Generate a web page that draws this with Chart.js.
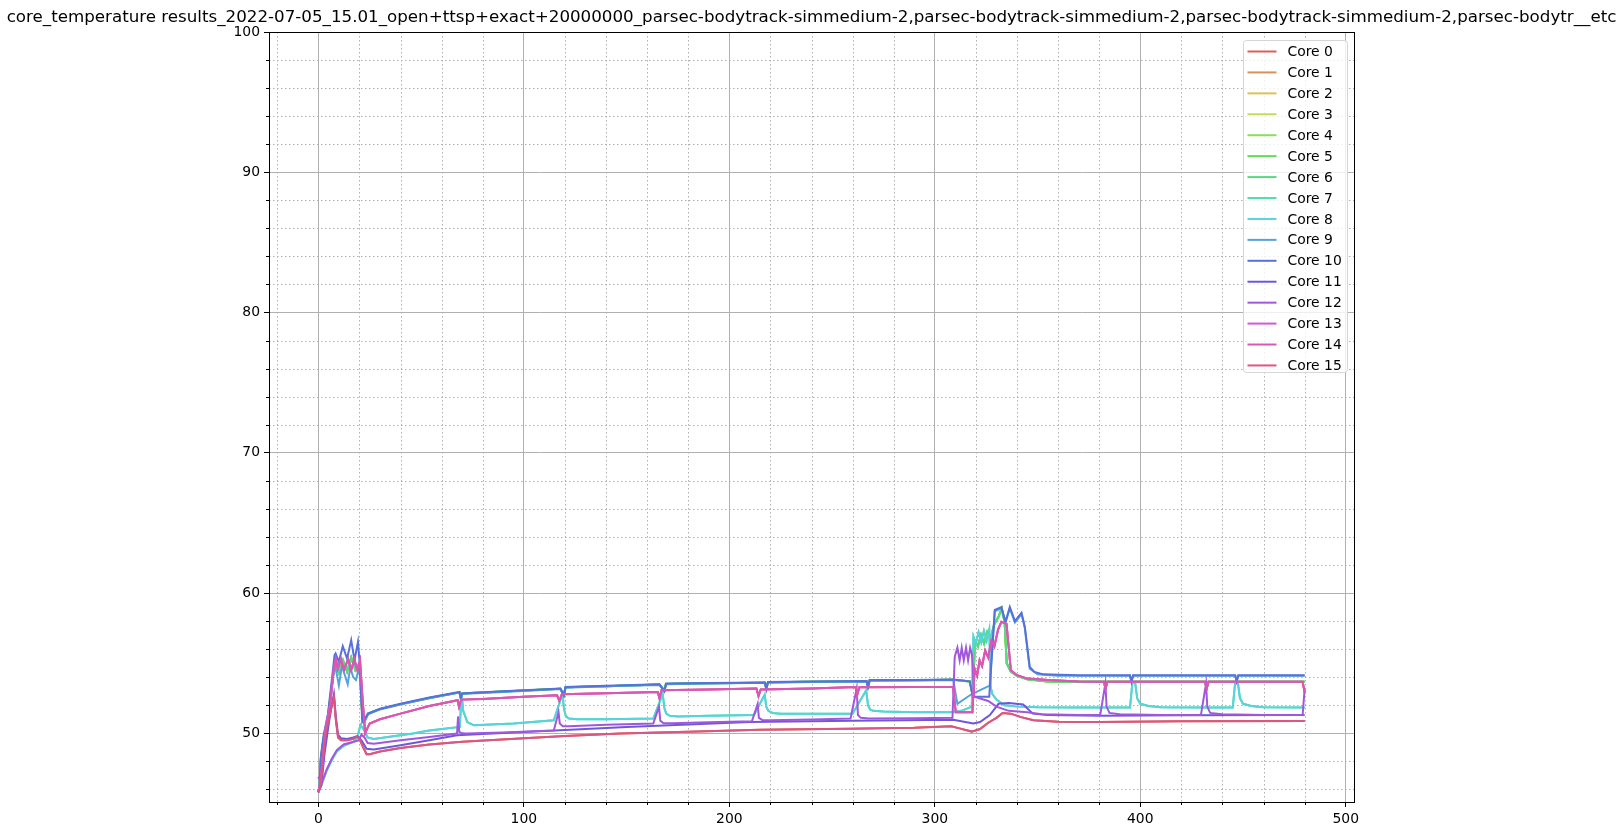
<!DOCTYPE html>
<html>
<head>
<meta charset="utf-8">
<script src="https://cdn.jsdelivr.net/npm/chart.js@4.4.0/dist/chart.umd.min.js"></script>
<style>
  body { margin: 0; background: #fff; }
  #wrap { width: 1623px; height: 836px; }
</style>
</head>
<body>
<div id="wrap"><canvas id="chart" width="1623" height="836"></canvas></div>
<script>
// title / labels
const chartTitle = 'core_temperature results_2022-07-05_15.01_open+ttsp+exact+20000000_parsec-bodytrack-simmedium-2,parsec-bodytrack-simmedium-2,parsec-bodytrack-simmedium-2,parsec-bodytr__etc';
const coreLabels = ['Core 0', 'Core 1', 'Core 2', 'Core 3', 'Core 4', 'Core 5', 'Core 6', 'Core 7',
                    'Core 8', 'Core 9', 'Core 10', 'Core 11', 'Core 12', 'Core 13', 'Core 14', 'Core 15'];
const coreColors = ['#db5f57', '#db9057', '#dbc257', '#c3db57', '#91db57', '#5fdb57', '#57db80', '#57dbb1',
                    '#57d3db', '#57a2db', '#5770db', '#6f57db', '#a157db', '#d357db', '#db57b2', '#db5781'];
const xTickLabels = [0, 100, 200, 300, 400, 500];
const yTickLabels = [50, 60, 70, 80, 90, 100];

// which trace each core follows (cores that overlap in the picture share one)
const coreTrace = ['cool', 'pink', 'green', 'green', 'green', 'green', 'green', 'cyan',
                   'cyan', 'sky', 'blue', 'violet', 'purple', 'pink', 'pink', 'cool'];

// coolest cores (0, 15)
const coolTimes = [0, 1, 2, 3, 4, 5, 6, 7, 7.6, 8.5,
  9.6, 11, 14, 17, 18.8, 20, 21.5, 23.5, 25, 30,
  40, 54, 70, 98, 120, 147, 180, 215, 258, 290,
  308, 312, 318, 322, 326, 330, 333, 337, 342, 348,
  360, 380, 420, 480];
const coolTemps = [45.8, 46.2, 47.5, 49.2, 50.3, 50.9, 51.6, 52.3, 52.6, 51.0,
  49.7, 49.5, 49.5, 49.6, 49.75, 49.6, 49.1, 48.5, 48.5, 48.7,
  48.95, 49.2, 49.4, 49.62, 49.8, 49.98, 50.1, 50.25, 50.33, 50.4,
  50.5, 50.35, 50.12, 50.3, 50.75, 51.1, 51.45, 51.4, 51.15, 50.93,
  50.82, 50.8, 50.85, 50.88];

// core 11
const violetTimes = [0, 1.5, 3, 5, 6.5, 7.6, 8.5, 9.6, 11, 14,
  17, 19, 21, 23.5, 27, 40, 54, 67.5, 80, 115,
  150, 210, 260, 309, 318.7, 322, 326.8, 331, 336, 343,
  347.7, 355, 380, 420, 480];
const violetTemps = [45.8, 46.3, 48.5, 50.6, 52.0, 52.8, 51.2, 49.9, 49.65, 49.6,
  49.7, 49.8, 49.5, 48.9, 48.85, 49.15, 49.5, 49.86, 49.95, 50.2,
  50.45, 50.8, 50.9, 50.97, 50.7, 50.8, 51.3, 52.1, 52.15, 52.05,
  51.4, 51.3, 51.25, 51.28, 51.3];

// core 12
const purpleTimes = [0, 1.5, 4, 6.6, 9, 12.3, 17.2, 19.7, 21, 22.5,
  24, 27, 40, 54, 67.5, 68, 68.6, 70, 72, 90,
  114.6, 116.9, 117.5, 119, 122, 140, 163, 165.8, 166.4, 168,
  172, 190, 211, 213.8, 214.4, 216, 220, 240, 259, 262,
  262.6, 264, 268, 290, 308.6, 309.7, 311, 312.1, 313.1, 314.1,
  315.2, 316.2, 317.2, 318.1, 319.2, 326, 330, 336, 345, 352,
  370, 380.5, 383, 383.6, 385, 390, 410, 429.5, 432, 432.6,
  434, 440, 460, 479, 480];
const purpleTemps = [46.9, 46.4, 47.4, 48.2, 48.8, 49.2, 49.4, 49.5, 49.9, 49.7,
  49.3, 49.26, 49.5, 49.74, 49.98, 51.2, 50.1, 50.0, 49.99, 50.05,
  50.2, 51.5, 50.7, 50.5, 50.5, 50.6, 50.69, 51.9, 50.9, 50.72,
  50.72, 50.78, 50.85, 52.1, 51.1, 50.95, 50.93, 50.98, 51.05, 53.19,
  51.3, 51.1, 51.05, 51.08, 51.1, 55.45, 56.1, 55.2, 56.1, 55.2,
  56.1, 55.2, 56.1, 55.6, 52.6, 52.3, 51.9, 51.6, 51.5, 51.35,
  51.3, 51.3, 53.55, 51.9, 51.45, 51.35, 51.3, 51.3, 53.55, 51.9,
  51.45, 51.35, 51.3, 51.3, 53.2];

// cores 7, 8
const cyanTimes = [0, 1.5, 4, 6.6, 9, 12.3, 17.2, 19, 20.5, 22,
  24, 27, 46, 54, 68.8, 69.8, 70.5, 72.5, 75.7, 95,
  114.6, 118.8, 119.6, 120.5, 122, 126, 140, 163, 167.6, 168.4,
  169.3, 171, 175, 190, 212, 217.2, 218, 219, 221, 225,
  260, 266.6, 267.5, 268.5, 270, 275, 290, 307.6, 313, 318,
  318.8, 320, 321.3, 322.6, 323.9, 325.2, 326.5, 327.2, 328, 330,
  334, 340, 350, 370, 395, 396.2, 397.5, 398.5, 400, 404,
  410, 430, 445, 446.2, 447.5, 448.5, 450, 454, 460, 480];
const cyanTemps = [45.8, 46.3, 47.3, 48.1, 48.7, 49.1, 49.4, 49.7, 50.6, 50.3,
  49.7, 49.6, 49.98, 50.2, 50.45, 52.8, 51.6, 50.8, 50.57, 50.7,
  50.93, 52.8, 51.7, 51.2, 51.05, 51.0, 51.0, 51.05, 52.8, 51.8,
  51.4, 51.25, 51.2, 51.25, 51.3, 52.75, 51.9, 51.6, 51.45, 51.4,
  51.4, 53.07, 52.0, 51.7, 51.6, 51.55, 51.5, 51.5, 51.6, 51.9,
  56.9, 56.4, 57.2, 56.5, 57.3, 56.6, 57.4, 53.3, 52.8, 52.4,
  52.0, 51.9, 51.85, 51.84, 51.84, 53.67, 53.6, 52.5, 52.1, 51.95,
  51.85, 51.84, 51.84, 53.67, 53.6, 52.5, 52.1, 51.95, 51.85, 51.84];

// cores 1, 13, 14
const pinkTimes = [0, 1, 2, 3.4, 5.8, 7.4, 8.5, 9.5, 11, 12.5,
  14.5, 16, 17.5, 19, 20.3, 21.5, 22.8, 24, 25, 30,
  40, 54, 67.8, 68.5, 69.5, 80, 100, 116.2, 117.3, 118.5,
  140, 165.2, 166, 167, 190, 213.2, 214.2, 215.3, 240, 261.5,
  262.2, 263.3, 290, 308.9, 310.2, 318.3, 319.4, 320.6, 321.8, 323,
  324.5, 326, 327.5, 329, 330.8, 332.4, 334.9, 337, 340, 345,
  355, 370, 382.3, 383.1, 384, 400, 431.5, 432.3, 433.2, 460,
  479, 480];
const pinkTemps = [45.8, 46.5, 48.0, 50.2, 52.1, 54.5, 55.3, 54.6, 55.3, 54.5,
  55.3, 54.5, 55.3, 54.5, 55.2, 52.5, 50.0, 50.4, 50.7, 51.0,
  51.4, 51.95, 52.36, 51.88, 52.4, 52.45, 52.6, 52.71, 52.3, 52.79,
  52.86, 52.95, 52.5, 53.07, 53.12, 53.19, 52.65, 53.12, 53.2, 53.3,
  52.71, 53.28, 53.3, 53.3, 51.5, 51.5, 54.6, 54.1, 55.2, 54.8,
  55.9, 55.4, 56.6, 56.2, 57.4, 57.95, 57.8, 54.5, 54.14, 53.9,
  53.8, 53.7, 53.67, 53.2, 53.67, 53.67, 53.67, 53.2, 53.67, 53.67,
  53.67, 52.9];

// core 10
const blueTimes = [0, 0.6, 1.2, 2.5, 4.7, 7.1, 7.9, 8.4, 10, 11.9,
  14, 16, 17.6, 19.3, 20.1, 21.4, 22.5, 24.2, 30, 40,
  54, 68.7, 69.3, 70, 71, 90, 117.8, 119.5, 120.3, 140,
  166, 168.4, 169.2, 190, 217.3, 218, 218.8, 240, 266.8, 267.5,
  268.3, 290, 309, 317, 318.5, 326.5, 329.2, 332.4, 334.4, 336.5,
  339, 342.2, 343.8, 346.2, 348.5, 352.7, 370, 395, 395.7, 396.5,
  420, 446.2, 446.9, 447.7, 480];
const blueTemps = [45.8, 46.2, 48.3, 49.8, 51.4, 54.5, 55.57, 55.69, 55.1, 56.21,
  55.33, 56.64, 55.21, 56.52, 55.0, 50.8, 51.0, 51.4, 51.75, 52.1,
  52.55, 52.95, 52.5, 52.84, 52.86, 53.0, 53.19, 52.7, 53.3, 53.38,
  53.5, 53.0, 53.55, 53.58, 53.62, 53.15, 53.65, 53.7, 53.72, 53.3,
  53.79, 53.8, 53.84, 53.7, 52.6, 52.6, 58.8, 59.0, 57.95, 59.0,
  58.0, 58.6, 57.6, 54.73, 54.38, 54.2, 54.14, 54.14, 53.67, 54.14,
  54.14, 54.14, 53.7, 54.14, 54.14];

// core 9
const skyTimes = [0, 0.6, 1.2, 2.5, 4.7, 7.1, 8, 9, 10, 11.5,
  13, 14.3, 15.5, 17, 18.3, 19.5, 20.5, 21.6, 22.5, 24.2,
  30, 40, 54, 68.7, 69.3, 70, 71, 90, 117.8, 119.5,
  120.3, 140, 166, 168.4, 169.2, 190, 217.3, 218, 218.8, 240,
  266.8, 267.5, 268.3, 290, 309, 311, 318, 326.7, 329.2, 332.4,
  334.4, 336.5, 339, 342.2, 343.8, 346.2, 350, 360, 395, 395.7,
  396.5, 420, 446.2, 446.9, 447.7, 480];
const skyTemps = [45.8, 46.2, 48.0, 49.5, 51.0, 53.8, 54.9, 54.2, 53.4, 54.8,
  54.1, 53.5, 54.7, 54.0, 53.8, 54.5, 54.0, 51.2, 50.8, 51.35,
  51.7, 52.05, 52.5, 52.9, 52.5, 52.8, 52.82, 52.95, 53.15, 52.7,
  53.25, 53.35, 53.45, 53.0, 53.5, 53.55, 53.6, 53.15, 53.6, 53.65,
  53.7, 53.3, 53.75, 53.78, 53.8, 52.1, 52.8, 53.4, 58.7, 58.9,
  57.9, 58.9, 57.9, 58.5, 57.5, 54.6, 54.2, 54.1, 54.1, 53.67,
  54.1, 54.1, 54.1, 53.7, 54.1, 54.1];

// cores 2 - 6
const greenTimes = [0, 0.6, 1.2, 2.5, 4.7, 7.1, 8, 10, 12, 14,
  16, 18, 20, 21.5, 22.5, 24.2, 30, 40, 54, 68.7,
  69.3, 70, 90, 117.8, 119.5, 120.3, 140, 166, 168.4, 169.2,
  190, 217.3, 218, 218.8, 240, 266.8, 267.5, 268.3, 290, 309,
  317, 318.6, 319.5, 321, 322.5, 324, 325.5, 327, 329, 331,
  332.6, 334, 335, 337, 340, 345, 355, 370, 382.3, 383.1,
  384, 431.5, 432.3, 433.2, 480];
const greenTemps = [45.8, 46.2, 48.1, 49.6, 51.2, 54.0, 55.0, 54.3, 55.2, 54.4,
  55.4, 54.5, 55.0, 51.0, 50.9, 51.4, 51.72, 52.08, 52.52, 52.92,
  52.55, 52.84, 52.97, 53.17, 52.75, 53.28, 53.36, 53.48, 53.05, 53.52,
  53.56, 53.6, 53.2, 53.63, 53.68, 53.7, 53.35, 53.76, 53.78, 53.82,
  53.7, 52.6, 56.6, 56.2, 57.0, 56.4, 57.2, 56.7, 57.8, 58.3,
  58.9, 57.9, 55.0, 54.4, 54.1, 53.85, 53.7, 53.67, 53.67, 53.2,
  53.67, 53.67, 53.2, 53.67, 53.67];

const traceTable = {
  cool: [coolTimes, coolTemps],
  violet: [violetTimes, violetTemps],
  purple: [purpleTimes, purpleTemps],
  cyan: [cyanTimes, cyanTemps],
  pink: [pinkTimes, pinkTemps],
  blue: [blueTimes, blueTemps],
  sky: [skyTimes, skyTemps],
  green: [greenTimes, greenTemps]
};

const FONT = 'DejaVu Sans';

// x,y pairs for one core
function pointsFor(traceName) {
  const [times, temps] = traceTable[traceName];
  return times.map((t, i) => ({ x: t, y: temps[i] }));
}

const datasets = coreLabels.map((label, i) => ({
  label: label,
  data: pointsFor(coreTrace[i]),
  borderColor: coreColors[i],
  backgroundColor: coreColors[i],
  borderWidth: 2,
  pointRadius: 0,
  tension: 0,
  fill: false,
  order: 15 - i   // later cores on top, like matplotlib
}));

// minor grid (dotted) + minor tick marks
const minorGrid = {
  id: 'minorGrid',
  beforeDatasetsDraw(chart) {
    const { ctx, chartArea: a, scales: { x, y } } = chart;
    ctx.save();
    ctx.lineWidth = 1;
    for (let v = -20; v <= 500; v += 20) {
      if (v % 100 === 0) continue;
      const px = Math.round(x.getPixelForValue(v)) + 0.5;
      ctx.strokeStyle = '#b0b0b0';
      ctx.setLineDash([1.5, 2.5]);
      ctx.beginPath(); ctx.moveTo(px, a.top); ctx.lineTo(px, a.bottom); ctx.stroke();
      ctx.strokeStyle = '#000';
      ctx.setLineDash([]);
      ctx.beginPath(); ctx.moveTo(px, a.bottom); ctx.lineTo(px, a.bottom + 3); ctx.stroke();
    }
    for (let v = 46; v < 100; v += 2) {
      if (v % 10 === 0) continue;
      const py = Math.round(y.getPixelForValue(v)) + 0.5;
      ctx.strokeStyle = '#b0b0b0';
      ctx.setLineDash([1.5, 2.5]);
      ctx.beginPath(); ctx.moveTo(a.left, py); ctx.lineTo(a.right, py); ctx.stroke();
      ctx.strokeStyle = '#000';
      ctx.setLineDash([]);
      ctx.beginPath(); ctx.moveTo(a.left - 3, py); ctx.lineTo(a.left, py); ctx.stroke();
    }
    ctx.restore();
  }
};

// title, axes frame and legend box inside the plot
const frameAndLegend = {
  id: 'frameAndLegend',
  afterDraw(chart) {
    const { ctx, chartArea: a } = chart;
    ctx.save();
    ctx.strokeStyle = '#000';
    ctx.lineWidth = 1;
    ctx.strokeRect(Math.round(a.left) + 0.5, Math.round(a.top) + 0.5,
                   Math.round(a.right - a.left), Math.round(a.bottom - a.top));

    // title centred over the axes
    ctx.fillStyle = '#000';
    ctx.font = '16.7px "' + FONT + '"';
    ctx.textAlign = 'center';
    ctx.textBaseline = 'alphabetic';
    ctx.fillText(chartTitle, (a.left + a.right) / 2, 22);

    // legend
    const boxW = 104, rowH = 20.93;
    const boxH = 11 * 2 + rowH * 15 - 4;
    const left = Math.round(a.right - 7 - boxW) + 0.5;
    const top = Math.round(a.top + 8) + 0.5;
    ctx.fillStyle = 'rgba(255,255,255,0.8)';
    ctx.strokeStyle = '#d5d5d5';
    ctx.beginPath();
    ctx.roundRect(left, top, boxW, boxH, 3);
    ctx.fill();
    ctx.stroke();
    ctx.font = '13.9px "' + FONT + '"';
    ctx.textBaseline = 'middle';
    ctx.textAlign = 'left';
    chart.data.datasets.forEach((ds, i) => {
      const cy = top + 11 + i * rowH;
      ctx.strokeStyle = ds.borderColor;
      ctx.lineWidth = 2;
      ctx.beginPath(); ctx.moveTo(left + 4, cy); ctx.lineTo(left + 33, cy); ctx.stroke();
      ctx.fillStyle = '#000';
      ctx.fillText(ds.label, left + 44, cy + 1);
    });
    ctx.restore();
  }
};

const ctx = document.getElementById('chart').getContext('2d');
new Chart(ctx, {
  type: 'line',
  data: { datasets: datasets },
  options: {
    responsive: false,
    animation: false,
    events: [],
    layout: { autoPadding: false, padding: { left: 0, right: 269, top: 32, bottom: 0 } },
    plugins: {
      legend: { display: false },
      tooltip: { enabled: false },
      title: { display: false }
    },
    scales: {
      x: {
        type: 'linear',
        min: -24,
        max: 504,
        afterFit: s => { s.height = 34; },
        afterBuildTicks: s => { s.ticks = xTickLabels.map(v => ({ value: v })); },
        ticks: { color: '#000', font: { family: FONT, size: 13.9 }, padding: 4, maxRotation: 0, autoSkip: false },
        grid: { color: '#b0b0b0', lineWidth: 1, tickColor: '#000', tickLength: 5 },
        border: { display: false }
      },
      y: {
        type: 'linear',
        min: 45.1,
        max: 100,
        afterFit: s => { s.width = 269; },
        afterBuildTicks: s => { s.ticks = yTickLabels.map(v => ({ value: v })); },
        ticks: { color: '#000', font: { family: FONT, size: 13.9 }, padding: 4, autoSkip: false },
        grid: { color: '#b0b0b0', lineWidth: 1, tickColor: '#000', tickLength: 5 },
        border: { display: false }
      }
    }
  },
  plugins: [minorGrid, frameAndLegend]
});
</script>
</body>
</html>
